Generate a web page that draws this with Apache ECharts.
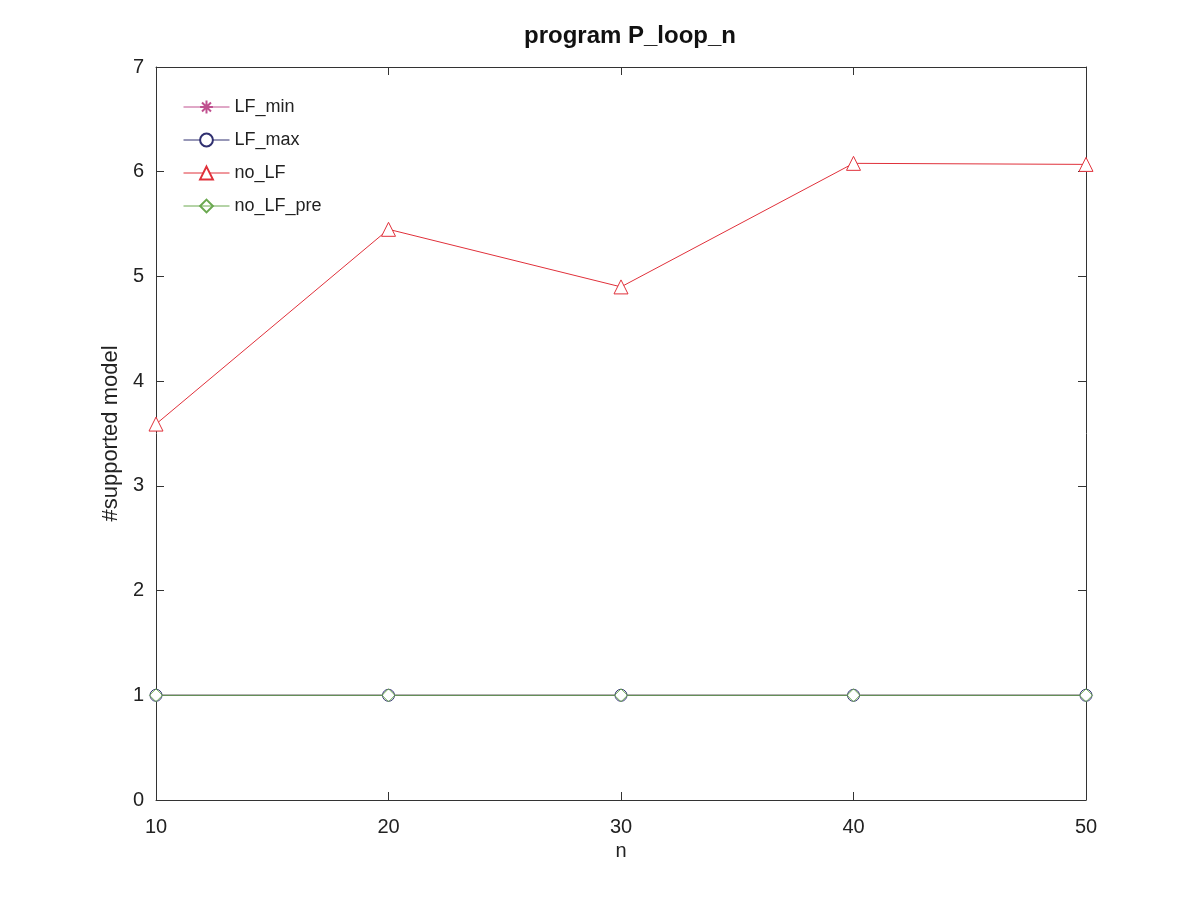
<!DOCTYPE html>
<html>
<head>
<meta charset="utf-8">
<script src="https://cdn.jsdelivr.net/npm/echarts@6/dist/echarts.min.js"></script>
<style>
  html, body { margin: 0; padding: 0; background: #fff; }
  #chart { width: 1200px; height: 900px; }
</style>
</head>
<body>
<div id="chart"></div>
<script>
const nValues = [10, 20, 30, 40, 50];
const lfMin = [1, 1, 1, 1, 1];
const lfMax = [1, 1, 1, 1, 1];
const noLF = [3.59, 5.45, 4.90, 6.08, 6.07];
const noLFPre = [1, 1, 1, 1, 1];

const pairs = (ys) => nValues.map((x, i) => [x, ys[i]]);

const font = "Liberation Sans, Arial, sans-serif";
const asterisk = "path://M0,-1L0,1M-1,0L1,0M-0.7,-0.7L0.7,0.7M-0.7,0.7L0.7,-0.7";

let myChart = echarts.init(document.getElementById("chart"));

const tickStyle = { inside: true, length: 8, lineStyle: { color: "#333" } };
const axisLine = { show: true, onZero: false, lineStyle: { color: "#333", width: 1 } };

let option = {
  animation: false,
  title: {
    text: "program P_loop_n",
    left: 625,
    textAlign: "center",
    top: 19,
    textStyle: { fontFamily: font, fontSize: 24, fontWeight: "bold", color: "#111" },
  },
  grid: { left: 156, right: 114, top: 67, bottom: 100 },
  legend: {
    orient: "vertical",
    left: 183,
    top: 98,
    padding: 0,
    itemWidth: 46,
    itemHeight: 16,
    itemGap: 15,
    lineStyle: { width: 1 },
    textStyle: { fontFamily: font, fontSize: 18, color: "#222" },
    data: ["LF_min", "LF_max", "no_LF", "no_LF_pre"],
  },
  xAxis: [
    {
      type: "value",
      min: 10,
      max: 50,
      interval: 10,
      position: "bottom",
      name: "n",
      nameLocation: "middle",
      nameGap: 40,
      nameTextStyle: { fontFamily: font, fontSize: 20, color: "#222" },
      axisLine: axisLine,
      axisTick: tickStyle,
      axisLabel: { fontFamily: font, fontSize: 20, color: "#222", margin: 17 },
      splitLine: { show: false },
    },
    {
      type: "value",
      min: 10,
      max: 50,
      interval: 10,
      position: "top",
      axisLine: axisLine,
      axisTick: tickStyle,
      axisLabel: { show: false },
      splitLine: { show: false },
    },
  ],
  yAxis: [
    {
      type: "value",
      min: 0,
      max: 7,
      interval: 1,
      position: "left",
      name: "#supported model",
      nameLocation: "middle",
      nameGap: 34,
      nameTextStyle: { fontFamily: font, fontSize: 22, color: "#222" },
      axisLine: axisLine,
      axisTick: tickStyle,
      axisLabel: { fontFamily: font, fontSize: 20, color: "#222", margin: 12 },
      splitLine: { show: false },
    },
    {
      type: "value",
      min: 0,
      max: 7,
      interval: 1,
      position: "right",
      axisLine: axisLine,
      axisTick: tickStyle,
      axisLabel: { show: false },
      splitLine: { show: false },
    },
  ],
  series: [
    {
      name: "LF_min",
      type: "line",
      data: pairs(lfMin),
      symbol: asterisk,
      symbolSize: 11,
      lineStyle: { color: "#c0508f", width: 1 },
      itemStyle: { color: "#ffffff", borderColor: "#c0508f", borderWidth: 1 },
    },
    {
      name: "LF_max",
      type: "line",
      data: pairs(lfMax),
      symbol: "circle",
      symbolSize: 12,
      lineStyle: { color: "#303070", width: 1 },
      itemStyle: { color: "#ffffff", borderColor: "#303070", borderWidth: 1 },
    },
    {
      name: "no_LF",
      type: "line",
      data: pairs(noLF),
      symbol: "triangle",
      symbolSize: 14,
      lineStyle: { color: "#e0303a", width: 1 },
      itemStyle: { color: "#ffffff", borderColor: "#e0303a", borderWidth: 1 },
    },
    {
      name: "no_LF_pre",
      type: "line",
      data: pairs(noLFPre),
      symbol: "diamond",
      symbolSize: 13,
      lineStyle: { color: "#6aa84f", width: 1 },
      itemStyle: { color: "rgba(255,255,255,0)", borderColor: "#6aa84f", borderWidth: 1 },
    },
  ],
};
myChart.setOption(option);
</script>
</body>
</html>
